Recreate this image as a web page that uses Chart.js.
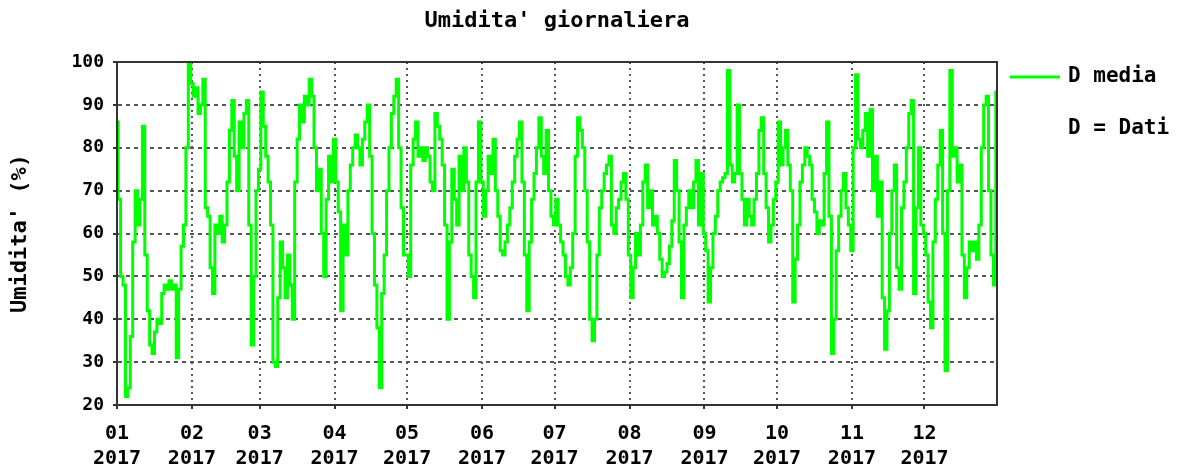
<!DOCTYPE html>
<html>
<head>
<meta charset="utf-8">
<script src="https://cdn.jsdelivr.net/npm/chart.js@4.4.1/dist/chart.umd.min.js"></script>
<style>
  html, body { margin: 0; padding: 0; background: #fff; }
  #wrap { width: 1182px; height: 468px; }
</style>
</head>
<body>
<div id="wrap"><canvas id="umidChart" width="1182" height="468"></canvas></div>
<script>
// daily mean humidity 2017 (%), one array per month
const jan = [86, 68, 50, 48, 22, 24, 36, 58, 70, 62, 68, 85, 55, 42, 34, 32, 37, 40, 39, 46, 48, 47, 49, 47, 48, 31, 47, 57, 62, 80, 100];
const feb = [95, 92, 94, 88, 90, 96, 66, 64, 52, 46, 62, 60, 64, 58, 62, 72, 84, 91, 78, 70, 86, 80, 88, 91, 62, 34, 50, 70];
const mar = [75, 93, 85, 78, 72, 62, 30, 29, 45, 58, 52, 45, 55, 48, 40, 72, 82, 90, 86, 92, 90, 96, 92, 80, 70, 75, 60, 50, 68, 78, 72];
const apr = [82, 72, 65, 42, 62, 55, 70, 76, 80, 83, 80, 76, 82, 86, 90, 78, 60, 48, 38, 24, 46, 55, 70, 80, 88, 92, 96, 80, 66, 55];
const may = [55, 50, 76, 82, 86, 78, 80, 77, 80, 78, 72, 70, 88, 85, 82, 76, 62, 40, 58, 75, 68, 62, 78, 70, 80, 72, 55, 50, 45, 72, 86];
const jun = [72, 64, 70, 78, 74, 82, 70, 64, 56, 55, 58, 62, 66, 72, 78, 82, 86, 72, 55, 42, 58, 68, 74, 80, 87, 78, 74, 84, 70, 64];
const jul = [62, 68, 62, 58, 55, 50, 48, 52, 60, 78, 87, 84, 80, 70, 58, 40, 35, 40, 55, 66, 70, 74, 76, 78, 62, 60, 66, 68, 72, 74, 68];
const aug = [55, 45, 52, 60, 55, 62, 72, 76, 66, 70, 62, 64, 60, 54, 50, 51, 53, 57, 63, 77, 70, 58, 45, 62, 66, 70, 66, 72, 77, 62, 74];
const sep = [60, 56, 44, 52, 60, 64, 70, 72, 73, 74, 98, 76, 72, 74, 90, 74, 68, 62, 68, 64, 62, 68, 74, 84, 87, 74, 66, 58, 62, 68];
const oct = [72, 86, 76, 80, 84, 76, 70, 44, 54, 62, 72, 76, 80, 78, 76, 68, 65, 60, 63, 62, 74, 86, 64, 32, 40, 56, 64, 70, 74, 66, 62];
const nov = [56, 80, 97, 82, 80, 84, 88, 78, 89, 70, 78, 64, 72, 45, 33, 42, 60, 70, 76, 52, 47, 66, 72, 80, 88, 91, 46, 66, 80, 62];
const dec = [60, 55, 44, 38, 58, 68, 76, 84, 60, 28, 70, 98, 78, 80, 72, 76, 55, 45, 52, 58, 56, 58, 54, 62, 80, 90, 92, 70, 55, 48, 93];

// x ticks: first day of each month (day index from 1 Jan)
const monthStarts = [0, 31, 59, 90, 120, 151, 181, 212, 243, 273, 304, 334];
const monthLabels = ['01', '02', '03', '04', '05', '06', '07', '08', '09', '10', '11', '12'];
const yearLabel = '2017';
const yTicks = [20, 30, 40, 50, 60, 70, 80, 90, 100];

const seriesLabel = 'D media';
const noteLabel = 'D = Dati';
const chartTitle = "Umidita' giornaliera";
const yTitle = "Umidita' (%)";

const humidity = [].concat(jan, feb, mar, apr, may, jun, jul, aug, sep, oct, nov, dec);

(function(){
    const FONT = "'DejaVu Sans Mono', 'Liberation Mono', monospace";
    const GREEN = '#00ff00';

    // frame round the plot + legend on the right
    const framePlugin = {
        id: 'frameAndLegend',
        afterDraw(chart) {
            const c = chart.ctx;
            const a = chart.chartArea;
            c.save();
            c.strokeStyle = '#333';
            c.lineWidth = 2;
            c.strokeRect(a.left, a.top, a.right - a.left, a.bottom - a.top);

            // legend
            const ds = chart.data.datasets[0];
            const lx = a.right + 13;
            const ly = a.top + 15;
            c.strokeStyle = ds.borderColor;
            c.lineWidth = 3;
            c.beginPath();
            c.moveTo(lx, ly);
            c.lineTo(lx + 50, ly);
            c.stroke();
            c.fillStyle = '#000';
            c.font = 'bold 21px ' + FONT;
            c.textBaseline = 'middle';
            c.textAlign = 'left';
            c.fillText(ds.label, lx + 58, ly);
            c.fillText(noteLabel, lx + 58, ly + 52);
            c.restore();
        }
    };

    try {
        const ctx = document.getElementById('umidChart');
        new Chart(ctx, {
            type: 'line',
            data: {
                datasets: [{
                    label: seriesLabel,
                    data: humidity.map((v, i) => ({ x: i, y: v })),
                    borderColor: GREEN,
                    backgroundColor: GREEN,
                    borderWidth: 3,
                    pointRadius: 0,
                    stepped: 'middle',
                    fill: false
                }]
            },
            options: {
                responsive: false,
                animation: false,
                layout: { padding: { left: 0, right: 185, top: 0, bottom: 0 } },
                plugins: {
                    legend: { display: false },
                    tooltip: { enabled: false },
                    title: {
                        display: true,
                        fullSize: false,
                        text: chartTitle,
                        color: '#000',
                        font: { family: FONT, size: 22, weight: 'bold', lineHeight: 1.2 },
                        padding: { top: 8, bottom: 27.6 }
                    }
                },
                scales: {
                    x: {
                        type: 'linear',
                        min: 0,
                        max: humidity.length - 1,
                        afterBuildTicks: (s) => { s.ticks = monthStarts.map(v => ({ value: v })); },
                        afterFit: (s) => { s.height = 63; },
                        ticks: {
                            autoSkip: false,
                            maxRotation: 0,
                            color: '#000',
                            padding: 12,
                            font: { family: FONT, size: 20, weight: 'bold', lineHeight: '25px' },
                            callback: (v) => [monthLabels[monthStarts.indexOf(v)], yearLabel]
                        },
                        grid: {
                            color: '#555',
                            lineWidth: 2,
                            drawTicks: true,
                            tickLength: 4,
                            tickColor: '#333',
                            tickBorderDash: []
                        },
                        border: { display: true, color: '#333', width: 2, dash: [2, 4] }
                    },
                    y: {
                        min: 20,
                        max: 100,
                        afterBuildTicks: (s) => { s.ticks = yTicks.map(v => ({ value: v })); },
                        afterFit: (s) => { s.width = 117; },
                        ticks: {
                            color: '#000',
                            padding: 9,
                            font: { family: FONT, size: 18, weight: 'bold' }
                        },
                        grid: {
                            color: '#555',
                            lineWidth: 2,
                            drawTicks: true,
                            tickLength: 4,
                            tickColor: '#333',
                            tickBorderDash: []
                        },
                        border: { display: true, color: '#333', width: 2, dash: [4, 4] },
                        title: {
                            display: true,
                            text: yTitle,
                            color: '#000',
                            font: { family: FONT, size: 22, weight: 'bold', lineHeight: 1.2 },
                            padding: { top: 7, bottom: 0 }
                        }
                    }
                }
            },
            plugins: [framePlugin]
        });
    } catch (err) {
        console.error('chart init error', err);
    }
})();
</script>
</body>
</html>
